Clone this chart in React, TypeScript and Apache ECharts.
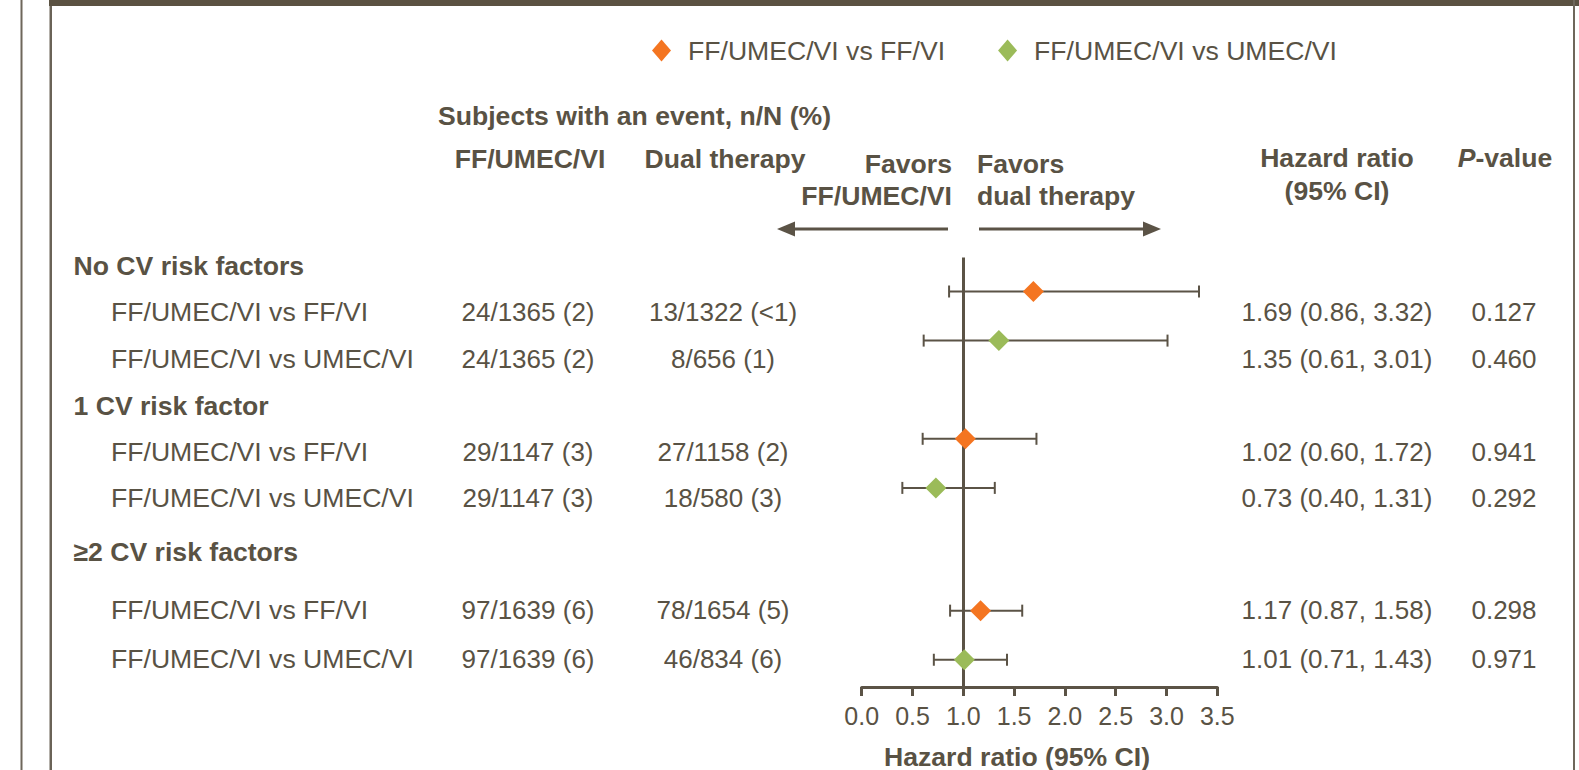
import React, { useEffect, useRef } from "react";
import * as echarts from "echarts";

// ---------- data ----------
const groups = ["No CV risk factors", "1 CV risk factor", "≥2 CV risk factors"];
const seriesNames = ["FF/UMEC/VI vs FF/VI", "FF/UMEC/VI vs UMEC/VI"];
const comparisons = [
  "FF/UMEC/VI vs FF/VI",
  "FF/UMEC/VI vs UMEC/VI",
  "FF/UMEC/VI vs FF/VI",
  "FF/UMEC/VI vs UMEC/VI",
  "FF/UMEC/VI vs FF/VI",
  "FF/UMEC/VI vs UMEC/VI",
];
const tripleEvents = ["24/1365 (2)", "24/1365 (2)", "29/1147 (3)", "29/1147 (3)", "97/1639 (6)", "97/1639 (6)"];
const dualEvents = ["13/1322 (<1)", "8/656 (1)", "27/1158 (2)", "18/580 (3)", "78/1654 (5)", "46/834 (6)"];
const hazardRatio = [1.69, 1.35, 1.02, 0.73, 1.17, 1.01];
const ciLower = [0.86, 0.61, 0.6, 0.4, 0.87, 0.71];
const ciUpper = [3.32, 3.01, 1.72, 1.31, 1.58, 1.43];
const pValues = ["0.127", "0.460", "0.941", "0.292", "0.298", "0.971"];
const xTicks = [0, 0.5, 1.0, 1.5, 2.0, 2.5, 3.0, 3.5];
const referenceHR = 1;

// ---------- layout / style ----------
const MARKER_SLOT = [0, 2, 6, 8, 13, 15];
const ROW_TEXT_Y = [312, 358.5, 452, 497.5, 610, 658.6];
const GROUP_Y = [266, 406, 552];
const TEXT = "#595244";
const DARK = "#5b5346";
const FONT = '"Liberation Sans", Arial, Helvetica, sans-serif';
const COLORS = ["#f47521", "#9bbb59"];
const FS = 26;
const FSW = 26.6;

function txt(text: string, x: number, y: number, align: string, bold = false, size = FS) {
  return {
    type: "text",
    x,
    y,
    silent: true,
    style: {
      text,
      fontSize: size,
      fontFamily: FONT,
      fontWeight: bold ? "bold" : "normal",
      fill: TEXT,
      align,
      verticalAlign: "middle",
    },
  };
}

export default function App() {
  const ref = useRef<HTMLDivElement>(null);
  useEffect(() => {
    if (!ref.current) return;
    const chart = echarts.init(ref.current, null, { renderer: "svg" });

    const graphics: any[] = [];
    // frame
    graphics.push({ type: "rect", silent: true, shape: { x: 20.5, y: 0, width: 2, height: 770 }, style: { fill: "#6e675b" } });
    graphics.push({ type: "rect", silent: true, shape: { x: 49.5, y: 0, width: 2.5, height: 770 }, style: { fill: "#6a6357" } });
    graphics.push({ type: "rect", silent: true, shape: { x: 49, y: 0, width: 1530, height: 6 }, style: { fill: "#5b5242" } });
    graphics.push({ type: "rect", silent: true, shape: { x: 1573, y: 0, width: 2, height: 770 }, style: { fill: "#6e675b" } });

    // headers
    graphics.push(txt("Subjects with an event, n/N (%)", 438, 116, "left", true, FSW));
    graphics.push(txt("FF/UMEC/VI", 530, 159, "center", true, FSW));
    graphics.push(txt("Dual therapy", 725, 159, "center", true, FSW));
    graphics.push(txt("Favors", 952, 164, "right", true, FSW));
    graphics.push(txt("FF/UMEC/VI", 952, 196, "right", true, FSW));
    graphics.push(txt("Favors", 977, 164, "left", true, FSW));
    graphics.push(txt("dual therapy", 977, 196, "left", true, FSW));
    graphics.push(txt("Hazard ratio", 1337, 158, "center", true, FSW));
    graphics.push(txt("(95% CI)", 1337, 191, "center", true, FSW));
    graphics.push({
      type: "text",
      x: 1505,
      y: 158,
      silent: true,
      style: {
        text: "{i|P}{b|-value}",
        align: "center",
        verticalAlign: "middle",
        rich: {
          i: { fontSize: FSW, fontFamily: FONT, fontWeight: "bold", fontStyle: "italic", fill: TEXT },
          b: { fontSize: FSW, fontFamily: FONT, fontWeight: "bold", fill: TEXT },
        },
      },
    });

    // arrows
    graphics.push({ type: "line", silent: true, shape: { x1: 948, y1: 229, x2: 792, y2: 229 }, style: { stroke: DARK, lineWidth: 3 } });
    graphics.push({ type: "polygon", silent: true, shape: { points: [[777, 229], [795, 221.5], [795, 236.5]] }, style: { fill: DARK } });
    graphics.push({ type: "line", silent: true, shape: { x1: 979, y1: 229, x2: 1146, y2: 229 }, style: { stroke: DARK, lineWidth: 3 } });
    graphics.push({ type: "polygon", silent: true, shape: { points: [[1161, 229], [1143, 221.5], [1143, 236.5]] }, style: { fill: DARK } });

    // group labels
    groups.forEach((g, i) => graphics.push(txt(g, 73.5, GROUP_Y[i], "left", true, FSW)));
    // rows
    comparisons.forEach((c, i) => {
      const y = ROW_TEXT_Y[i];
      graphics.push(txt(c, 111, y, "left", false, FSW));
      graphics.push(txt(tripleEvents[i], 528, y, "center"));
      graphics.push(txt(dualEvents[i], 723, y, "center"));
      graphics.push(
        txt(
          `${hazardRatio[i].toFixed(2)} (${ciLower[i].toFixed(2)}, ${ciUpper[i].toFixed(2)})`,
          1337,
          y,
          "center"
        )
      );
      graphics.push(txt(pValues[i], 1504, y, "center"));
    });

    const errData = hazardRatio.map((_, i) => [ciLower[i], ciUpper[i], MARKER_SLOT[i]]);

    const scatterSeries = seriesNames.map((name, s) => ({
      name,
      type: "scatter",
      symbol: "diamond",
      symbolSize: [21, 21],
      z: 5,
      itemStyle: { color: COLORS[s], opacity: 1 },
      data: hazardRatio
        .map((v, i) => ({ v, i }))
        .filter(({ i }) => comparisons[i] === name)
        .map(({ v, i }) => [v, MARKER_SLOT[i]]),
    }));

    const option: any = {
      animation: false,
      backgroundColor: "#ffffff",
      textStyle: { fontFamily: FONT },
      legend: {
        data: seriesNames.map((n) => ({ name: n, icon: "diamond" })),
        left: 652,
        top: 37,
        padding: 0,
        itemWidth: 19,
        itemHeight: 22,
        itemGap: 53,
        textStyle: { fontSize: FSW, color: TEXT, fontFamily: FONT, padding: [0, 0, 0, 12] },
        selectedMode: false,
      },
      grid: {
        left: 861.7,
        right: 361.7,
        top: 257.5,
        bottom: 83,
        containLabel: false,
        outerBoundsMode: "none",
      },
      xAxis: {
        type: "value",
        min: xTicks[0],
        max: xTicks[xTicks.length - 1],
        interval: xTicks[1] - xTicks[0],
        axisLine: { onZero: false, lineStyle: { color: DARK, width: 3 } },
        axisTick: { show: true, length: 9, lineStyle: { color: DARK, width: 3 } },
        axisLabel: {
          fontSize: 25,
          color: TEXT,
          fontFamily: FONT,
          margin: 16,
          formatter: (v: number) => v.toFixed(1),
        },
        splitLine: { show: false },
        name: "Hazard ratio (95% CI)",
        nameLocation: "middle",
        nameGap: 56,
        nameTextStyle: {
          fontSize: FSW,
          fontWeight: "bold",
          color: TEXT,
          fontFamily: FONT,
          padding: [0, 45, 0, 0],
        },
      },
      yAxis: {
        type: "value",
        inverse: true,
        min: -1.385,
        max: 16.11,
        show: false,
        splitLine: { show: false },
      },
      graphic: graphics,
      series: [
        {
          type: "custom",
          name: "CI",
          z: 2,
          data: errData,
          encode: { x: [0, 1], y: 2 },
          renderItem: (params: any, api: any) => {
            const lo = api.coord([api.value(0), api.value(2)]);
            const hi = api.coord([api.value(1), api.value(2)]);
            const cap = 6;
            const st = { stroke: DARK, lineWidth: 2 };
            return {
              type: "group",
              children: [
                { type: "line", shape: { x1: lo[0], y1: lo[1], x2: hi[0], y2: hi[1] }, style: st },
                { type: "line", shape: { x1: lo[0], y1: lo[1] - cap, x2: lo[0], y2: lo[1] + cap }, style: st },
                { type: "line", shape: { x1: hi[0], y1: hi[1] - cap, x2: hi[0], y2: hi[1] + cap }, style: st },
              ],
            };
          },
          markLine: {
            silent: true,
            symbol: ["none", "none"],
            label: { show: false },
            lineStyle: { color: DARK, width: 3, type: "solid" },
            data: [{ xAxis: referenceHR }],
          },
        },
        ...scatterSeries,
      ],
    };
    chart.setOption(option);
    return () => chart.dispose();
  }, []);

  return (
    <div
      ref={ref}
      style={{ position: "absolute", left: 0, top: 0, width: 1579, height: 770, background: "#fff" }}
    />
  );
}
